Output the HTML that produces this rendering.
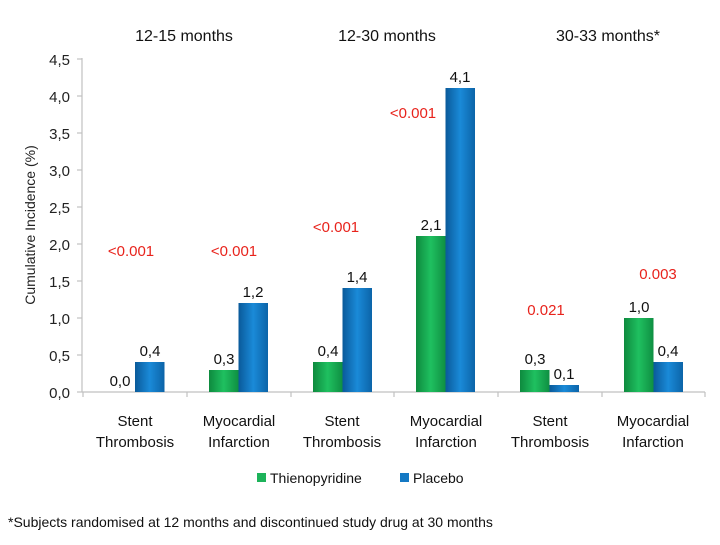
<!DOCTYPE html><html><head><style>body{margin:0;background:#fff}svg text{font-family:"Liberation Sans",sans-serif}</style></head><body>
<svg width="720" height="540" xmlns="http://www.w3.org/2000/svg">
<defs>
<linearGradient id="g" x1="0" x2="1"><stop offset="0" stop-color="#0e8a3e"/><stop offset="0.5" stop-color="#1fc060"/><stop offset="1" stop-color="#0f8f42"/></linearGradient>
<linearGradient id="b" x1="0" x2="1"><stop offset="0" stop-color="#0a5a9a"/><stop offset="0.5" stop-color="#1a8ad8"/><stop offset="1" stop-color="#0c64a8"/></linearGradient>
</defs>
<g stroke="#c0c0c0" stroke-width="1.2">
<line x1="82" y1="58" x2="82" y2="392"/>
<line x1="82" y1="392" x2="705" y2="392"/>
<line x1="77" y1="59" x2="82" y2="59"/><line x1="77" y1="96" x2="82" y2="96"/><line x1="77" y1="133" x2="82" y2="133"/><line x1="77" y1="170" x2="82" y2="170"/><line x1="77" y1="207" x2="82" y2="207"/><line x1="77" y1="244" x2="82" y2="244"/><line x1="77" y1="281" x2="82" y2="281"/><line x1="77" y1="318" x2="82" y2="318"/><line x1="77" y1="355" x2="82" y2="355"/><line x1="77" y1="392" x2="82" y2="392"/>
<line x1="83" y1="392" x2="83" y2="397"/><line x1="187" y1="392" x2="187" y2="397"/><line x1="291" y1="392" x2="291" y2="397"/><line x1="394" y1="392" x2="394" y2="397"/><line x1="498" y1="392" x2="498" y2="397"/><line x1="602" y1="392" x2="602" y2="397"/><line x1="705" y1="392" x2="705" y2="397"/>
</g>
<g font-size="15" fill="#222" text-anchor="end">
<text x="70" y="65">4,5</text><text x="70" y="102">4,0</text><text x="70" y="139">3,5</text><text x="70" y="176">3,0</text><text x="70" y="213">2,5</text><text x="70" y="250">2,0</text><text x="70" y="287">1,5</text><text x="70" y="324">1,0</text><text x="70" y="361">0,5</text><text x="70" y="398">0,0</text>
</g>
<text transform="translate(35,225) rotate(-90)" font-size="14" fill="#222" text-anchor="middle">Cumulative Incidence (%)</text>
<g font-size="16" fill="#111" text-anchor="middle">
<text x="184" y="41">12-15 months</text><text x="387" y="41">12-30 months</text><text x="608" y="41">30-33 months*</text>
</g>
<!-- bars -->
<rect x="135" y="362" width="29.5" height="30" fill="url(#b)"/>
<rect x="209" y="370" width="29.5" height="22" fill="url(#g)"/><rect x="238.5" y="303" width="29.5" height="89" fill="url(#b)"/>
<rect x="313" y="362" width="29.5" height="30" fill="url(#g)"/><rect x="342.5" y="288" width="29.5" height="104" fill="url(#b)"/>
<rect x="416" y="236" width="29.5" height="156" fill="url(#g)"/><rect x="445.5" y="88" width="29.5" height="304" fill="url(#b)"/>
<rect x="520" y="370" width="29.5" height="22" fill="url(#g)"/><rect x="549.5" y="385" width="29.5" height="7" fill="url(#b)"/>
<rect x="624" y="318" width="29.5" height="74" fill="url(#g)"/><rect x="653.5" y="362" width="29.5" height="30" fill="url(#b)"/>
<g font-size="15" fill="#111" text-anchor="middle">
<text x="120" y="386">0,0</text><text x="150" y="356">0,4</text>
<text x="224" y="364">0,3</text><text x="253" y="297">1,2</text>
<text x="328" y="356">0,4</text><text x="357" y="282">1,4</text>
<text x="431" y="230">2,1</text><text x="460" y="82">4,1</text>
<text x="535" y="364">0,3</text><text x="564" y="379">0,1</text>
<text x="639" y="312">1,0</text><text x="668" y="356">0,4</text>
</g>
<g font-size="15" fill="#e8231c" text-anchor="middle">
<text x="131" y="256">&lt;0.001</text><text x="234" y="256">&lt;0.001</text><text x="336" y="232">&lt;0.001</text><text x="413" y="118">&lt;0.001</text><text x="546" y="315">0.021</text><text x="658" y="279">0.003</text>
</g>
<g font-size="15" fill="#111" text-anchor="middle">
<text x="135" y="426">Stent</text><text x="135" y="447">Thrombosis</text>
<text x="239" y="426">Myocardial</text><text x="239" y="447">Infarction</text>
<text x="342" y="426">Stent</text><text x="342" y="447">Thrombosis</text>
<text x="446" y="426">Myocardial</text><text x="446" y="447">Infarction</text>
<text x="550" y="426">Stent</text><text x="550" y="447">Thrombosis</text>
<text x="653" y="426">Myocardial</text><text x="653" y="447">Infarction</text>
</g>
<rect x="257" y="473" width="9" height="9" fill="#1db35a"/><text x="270" y="483" font-size="14" fill="#111">Thienopyridine</text>
<rect x="400" y="473" width="9" height="9" fill="#1479c4"/><text x="413" y="483" font-size="14" fill="#111">Placebo</text>
<text x="8" y="527" font-size="14" fill="#111">*Subjects randomised at 12 months and discontinued study drug at 30 months</text>
</svg>
</body></html>
